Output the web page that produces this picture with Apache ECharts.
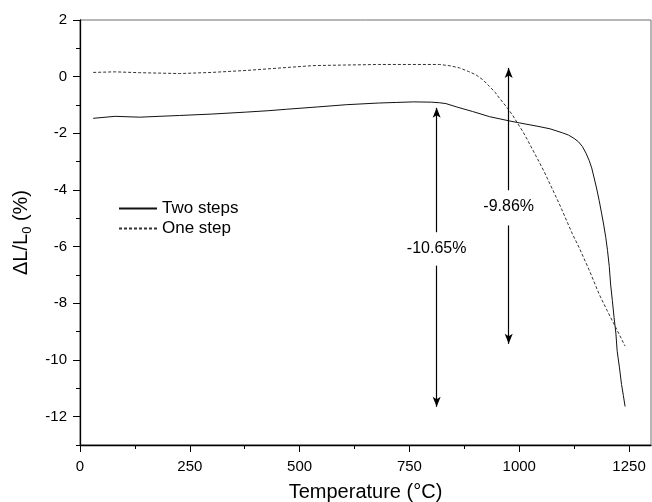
<!DOCTYPE html>
<html>
<head>
<meta charset="utf-8">
<script src="https://cdn.jsdelivr.net/npm/echarts@6/dist/echarts.min.js"></script>
<style>html,body{margin:0;padding:0;background:#fff;overflow:hidden;}#c{width:652px;height:502px;}</style>
</head>
<body>
<div id="c"></div>
<script>
// Two steps (solid)
var twoT = [30, 80, 136, 180, 227, 300, 379, 430, 470, 540, 606, 680, 720, 760, 800, 818, 833, 860, 894, 932, 977, 1000, 1045, 1070, 1098, 1112, 1125, 1135, 1144, 1152, 1159, 1165, 1170, 1176, 1182, 1187, 1192, 1197, 1201, 1205, 1208, 1212, 1216, 1220, 1223, 1228, 1233, 1237, 1241];
var twoV = [-1.47, -1.40, -1.43, -1.40, -1.37, -1.32, -1.25, -1.20, -1.15, -1.07, -0.99, -0.93, -0.91, -0.89, -0.90, -0.92, -0.95, -1.08, -1.23, -1.41, -1.56, -1.63, -1.76, -1.84, -1.98, -2.06, -2.18, -2.30, -2.47, -2.70, -2.95, -3.22, -3.54, -3.93, -4.37, -4.78, -5.20, -5.67, -6.14, -6.70, -7.32, -7.90, -8.51, -9.05, -9.69, -10.25, -10.87, -11.25, -11.64];
// One step (dashed)
var oneT = [30, 80, 136, 227, 300, 379, 450, 530, 600, 680, 720, 780, 818, 840, 864, 885, 901, 918, 932, 945, 955, 965, 973, 985, 996, 1008, 1019, 1032, 1045, 1057, 1091, 1121, 1136, 1160, 1182, 1200, 1220, 1241];
var oneV = [0.15, 0.17, 0.14, 0.11, 0.15, 0.22, 0.30, 0.39, 0.41, 0.43, 0.43, 0.43, 0.43, 0.39, 0.31, 0.18, 0.07, -0.12, -0.34, -0.55, -0.76, -0.95, -1.11, -1.36, -1.64, -1.93, -2.24, -2.62, -3.00, -3.36, -4.48, -5.55, -6.02, -6.85, -7.68, -8.25, -8.86, -9.51];

var seriesNames = ['Two steps', 'One step'];
var xTicks = [0, 250, 500, 750, 1000, 1250];
var xMinor = [125, 375, 625, 875, 1125];
var yTicks = [-12, -10, -8, -6, -4, -2, 0, 2];
var yMinor = [-13, -11, -9, -7, -5, -3, -1, 1];

// annotations: arrow x, upper segment [from,to], lower segment [from,to], label y, label text
var arrowX = [812, 976];
var arrowUp = [[-5.49, -1.10], [-4.01, 0.31]];
var arrowDown = [[-6.67, -11.65], [-5.25, -9.43]];
var labelY = [-6.07, -4.60];
var labelText = ['-10.65%', '-9.86%'];

function pairs(t, v) { return t.map(function (x, i) { return [x, v[i]]; }); }

var markLines = [];
arrowX.forEach(function (x, i) {
  markLines.push([{ coord: [x, arrowUp[i][0]], symbol: 'none' }, { coord: [x, arrowUp[i][1]], symbol: 'arrow' }]);
  markLines.push([{ coord: [x, arrowDown[i][0]], symbol: 'none' }, { coord: [x, arrowDown[i][1]], symbol: 'arrow' }]);
});
var labelData = arrowX.map(function (x, i) { return [x, labelY[i], labelText[i]]; });

var font = '"Liberation Sans", Arial, sans-serif';
var chart = echarts.init(document.getElementById('c'));
chart.setOption({
  animation: false,
  backgroundColor: '#fff',
  textStyle: { fontFamily: font },
  grid: { left: 80, right: 1, top: 20, bottom: 57, show: true, borderColor: '#6e6e6e', borderWidth: 1,
    containLabel: false, outerBoundsMode: 'none' },
  legend: {
    data: seriesNames, orient: 'vertical', left: 118, top: 200, itemWidth: 38, itemHeight: 12, itemGap: 3, padding: 0,
    itemStyle: { opacity: 0 },
    textStyle: { fontSize: 17, lineHeight: 17, color: '#000', fontFamily: font }
  },
  xAxis: [{
    type: 'value', min: 0, max: 1300, position: 'bottom',
    name: 'Temperature (°C)', nameLocation: 'middle', nameGap: 37,
    nameTextStyle: { fontSize: 20, color: '#000', fontFamily: font },
    axisLine: { show: true, onZero: false, lineStyle: { color: '#000', width: 1.3 } },
    axisTick: { show: true, length: 7, customValues: xTicks, lineStyle: { color: '#000' } },
    axisLabel: { customValues: xTicks, fontSize: 15, color: '#000', margin: 14, fontFamily: font,
      formatter: function (v) { return String(v); } },
    splitLine: { show: false }
  }, {
    type: 'value', min: 0, max: 1300, position: 'bottom',
    axisLine: { show: false, onZero: false },
    axisTick: { show: true, length: 4, customValues: xMinor, lineStyle: { color: '#000' } },
    axisLabel: { show: false }, splitLine: { show: false }
  }],
  yAxis: [{
    type: 'value', min: -13, max: 2, position: 'left',
    name: '{a|ΔL/L}{s|0}{a| (%)}', nameLocation: 'middle', nameGap: 48, nameRotate: 90,
    nameTextStyle: {
      color: '#000', fontFamily: font,
      rich: {
        a: { fontSize: 20, color: '#000', fontFamily: font, verticalAlign: 'bottom' },
        s: { fontSize: 13, color: '#000', fontFamily: font, verticalAlign: 'bottom', padding: [0, 0, -3, 0] }
      }
    },
    axisLine: { show: true, onZero: false, lineStyle: { color: '#000', width: 1.3 } },
    axisTick: { show: true, length: 7, customValues: yTicks, lineStyle: { color: '#000' } },
    axisLabel: { customValues: yTicks, fontSize: 15, color: '#000', margin: 13, fontFamily: font },
    splitLine: { show: false }
  }, {
    type: 'value', min: -13, max: 2, position: 'left',
    axisLine: { show: false, onZero: false },
    axisTick: { show: true, length: 4, customValues: yMinor, lineStyle: { color: '#000' } },
    axisLabel: { show: false }, splitLine: { show: false }
  }],
  series: [{
    name: seriesNames[0], type: 'line', xAxisIndex: 0, yAxisIndex: 0,
    data: pairs(twoT, twoV), symbol: 'none', showSymbol: false,
    lineStyle: { color: '#111', width: 1 }, itemStyle: { color: '#111' },
    markLine: {
      silent: true, symbolSize: [6, 10], label: { show: false },
      lineStyle: { color: '#000', width: 1.2, type: 'solid' },
      data: markLines
    }
  }, {
    name: seriesNames[1], type: 'line', xAxisIndex: 0, yAxisIndex: 0,
    data: pairs(oneT, oneV), symbol: 'none', showSymbol: false,
    lineStyle: { color: '#333', width: 1, type: [3, 2] }, itemStyle: { color: '#333' }
  }, {
    name: 'labels', type: 'scatter', xAxisIndex: 0, yAxisIndex: 0,
    data: labelData, symbolSize: 0, itemStyle: { color: '#000', opacity: 1 }, silent: true,
    label: { show: true, position: 'inside', fontSize: 16, color: '#000', opacity: 1,
      textBorderWidth: 0, textBorderColor: 'transparent', fontFamily: font,
      formatter: function (p) { return p.value[2]; } }
  }]
});
</script>
</body>
</html>
